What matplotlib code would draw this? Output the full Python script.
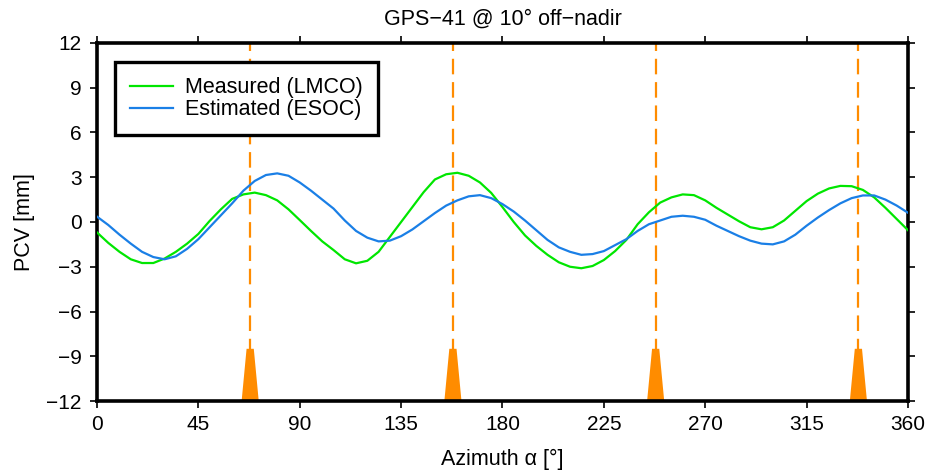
import matplotlib.pyplot as plt
import numpy as np
from matplotlib.patches import Polygon

plt.rcParams['font.family'] = ['Liberation Sans', 'DejaVu Sans']

# azimuth grid (deg) and PCV values (mm)
azimuth = np.arange(0, 361, 5)
measured = [-0.7, -1.4, -2.0, -2.5, -2.75, -2.75, -2.45, -2.0, -1.45, -0.8,
            0.07, 0.85, 1.55, 1.85, 1.97, 1.8, 1.45, 0.85, 0.13, -0.6,
            -1.3, -1.88, -2.5, -2.77, -2.6, -2.0, -1.0, 0.0, 1.0, 2.0,
            2.85, 3.2, 3.3, 3.1, 2.65, 1.95, 1.0, 0.0, -0.9, -1.6,
            -2.2, -2.7, -3.0, -3.1, -2.95, -2.55, -1.95, -1.2, -0.15, 0.65,
            1.3, 1.65, 1.85, 1.8, 1.45, 0.95, 0.5, 0.05, -0.35, -0.49,
            -0.35, 0.1, 0.75, 1.4, 1.9, 2.25, 2.42, 2.4, 2.15, 1.65,
            0.95, 0.2, -0.55]
estimated = [0.36, -0.2, -0.85, -1.45, -2.0, -2.35, -2.5, -2.3, -1.8, -1.15,
             -0.35, 0.45, 1.25, 2.1, 2.75, 3.15, 3.26, 3.1, 2.65, 2.1,
             1.5, 0.9, 0.1, -0.6, -1.05, -1.3, -1.25, -0.95, -0.5, 0.05,
             0.6, 1.1, 1.45, 1.72, 1.8, 1.6, 1.2, 0.7, 0.1, -0.55,
             -1.2, -1.7, -2.0, -2.2, -2.15, -1.95, -1.55, -1.15, -0.6, -0.15,
             0.1, 0.35, 0.42, 0.35, 0.15, -0.25, -0.6, -0.95, -1.25, -1.45,
             -1.5, -1.3, -0.85, -0.25, 0.3, 0.8, 1.25, 1.6, 1.78, 1.78,
             1.5, 1.1, 0.62]

# orbit-plane / marker azimuths
markers = [68, 158, 248, 338]
marker_top = -8.5

xticks = np.arange(0, 361, 45)
yticks = np.arange(-12, 13, 3)

fig = plt.figure(figsize=(9.3, 4.74), dpi=100)
ax = fig.add_axes([0.1043, 0.154, 0.8720, 0.7553])

orange = '#FF8C00'
for m in markers:
    ax.axvline(m, color=orange, lw=1.6, dashes=(7, 3.5), zorder=1)
    poly = Polygon([(m - 3.8, -12), (m + 3.8, -12), (m + 1.6, marker_top), (m - 1.6, marker_top)],
                   closed=True, facecolor=orange, edgecolor='none', zorder=2)
    ax.add_patch(poly)

ax.plot(azimuth, measured, color='#00E600', lw=1.6, label='Measured (LMCO)', zorder=3,
        solid_joinstyle='round')
ax.plot(azimuth, estimated, color='#1A7FE6', lw=1.6, label='Estimated (ESOC)', zorder=3,
        solid_joinstyle='round')

ax.set_xlim(0, 360)
ax.set_ylim(-12, 12)
ax.set_xticks(xticks)
ax.set_yticks(yticks)
ax.tick_params(direction='out', length=5, width=1.2, labelsize=15,
               top=True, right=True, labeltop=False, labelright=False)
ax.tick_params(axis='y', pad=6)
ax.tick_params(axis='x', pad=5)
for s in ax.spines.values():
    s.set_linewidth(2.6)

ax.set_xlabel('Azimuth α [°]', fontsize=15.5, labelpad=11)
ax.set_ylabel('PCV [mm]', fontsize=15.5, labelpad=8)
ax.set_title('GPS−41 @ 10° off−nadir', fontsize=15.5, pad=13)

leg = ax.legend(loc='upper left', bbox_to_anchor=(0.022, 0.947), fontsize=15.5,
                frameon=True, fancybox=False, handlelength=2.0, handletextpad=0.55,
                borderpad=0.7, borderaxespad=0, labelspacing=0.05)
leg.get_frame().set_edgecolor('black')
leg.get_frame().set_linewidth(2.4)
leg.get_frame().set_alpha(1)

fig.savefig('out.png', dpi=100)
